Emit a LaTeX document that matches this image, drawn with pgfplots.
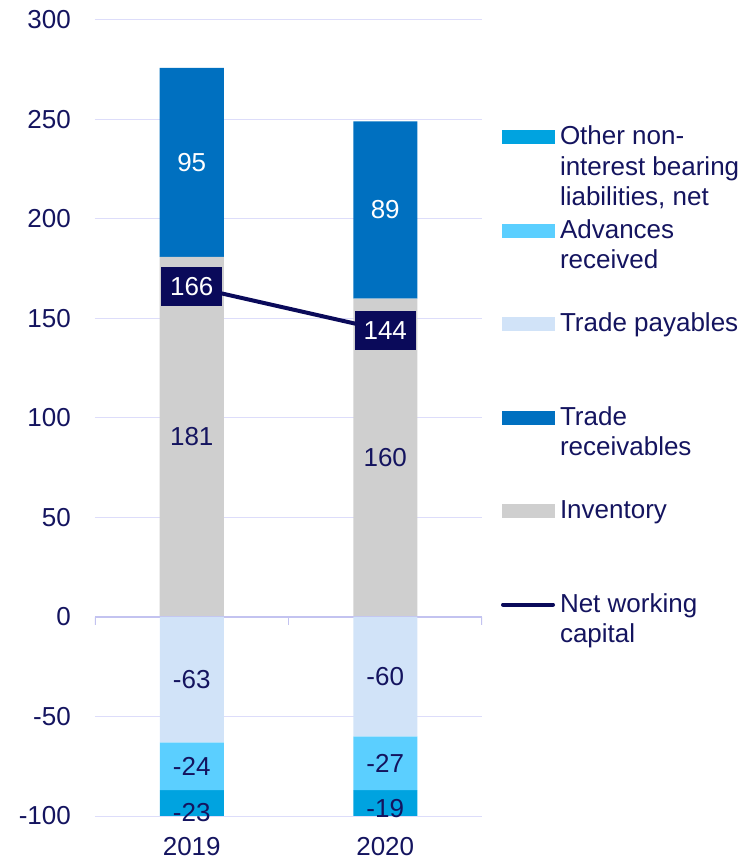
\documentclass[border=0pt]{standalone}
\usepackage{pgfplots}
\pgfplotsset{compat=1.18}
\usepackage{fontspec}
\setmainfont{Liberation Sans}
\definecolor{oth}{RGB}{0,163,224}
\definecolor{adv}{RGB}{91,207,255}
\definecolor{tpay}{RGB}{209,227,248}
\definecolor{trec}{RGB}{0,112,192}
\definecolor{inv}{RGB}{207,207,207}
\definecolor{nwc}{RGB}{10,10,90}
\definecolor{txt}{RGB}{20,20,95}
\definecolor{gridc}{RGB}{221,221,250}
\definecolor{zeroc}{RGB}{195,195,240}
\newcommand\fs{\fontsize{26bp}{30.5bp}\selectfont}
\pgfplotsset{
  base/.style={
    scale only axis, width=387bp, height=796bp, at={(0,0)}, anchor=south west,
    xmin=-0.5, xmax=1.5, ymin=-100, ymax=300, font=\fs,
  },
  lbl/.style={
    forget plot, draw=none, mark=none,
    nodes near coords={\pgfplotspointmeta},
    point meta=explicit symbolic,
    every node near coord/.append style={anchor=center, font=\fs, inner sep=0pt, text=#1},
  },
}
\begin{document}
\begin{tikzpicture}
\path[use as bounding box] (-95bp,-43bp) rectangle (648bp,816bp);
% positive stack with grid and ticks
\begin{axis}[base, ybar stacked, bar width=64bp,
  ytick={-100,-50,...,300}, xtick={0,1}, xticklabels={2019,2020},
  ymajorgrids, grid style={draw=gridc, line width=1bp},
  major tick length=0pt,
  axis line style={draw=none},
  tick label style={text=txt},
  yticklabel style={inner sep=0pt, xshift=-24bp},
  xticklabel style={inner sep=0pt, yshift=-20.7bp},
  /pgf/number format/assume math mode=true,
]
\draw[zeroc, line width=1.5bp] (axis cs:-0.5,0) -- (axis cs:1.5,0);
\draw[zeroc, line width=1.5bp] (axis cs:-0.5,0) -- ([yshift=-8bp]axis cs:-0.5,0);
\draw[zeroc, line width=1.5bp] (axis cs:0.5,0) -- ([yshift=-8bp]axis cs:0.5,0);
\draw[zeroc, line width=1.5bp] (axis cs:1.5,0) -- ([yshift=-8bp]axis cs:1.5,0);
% Inventory
\addplot[fill=inv, draw=none] coordinates {(0,181) (1,160)};
% Trade receivables
\addplot[fill=trec, draw=none] coordinates {(0,95) (1,89)};
\end{axis}
% negative stack
\begin{axis}[base, hide axis, ybar stacked, bar width=64bp]
% Trade payables
\addplot[fill=tpay, draw=none] coordinates {(0,-63) (1,-60)};
% Advances received
\addplot[fill=adv, draw=none] coordinates {(0,-24) (1,-27)};
% Other non-interest bearing liabilities, net
\addplot[fill=oth, draw=none] coordinates {(0,-23) (1,-19)};
\end{axis}
% value labels, net working capital and legend
\begin{axis}[base, hide axis, clip=false,
  legend style={draw=none, fill=none, inner sep=0pt, outer sep=0pt,
    at={(axis description cs:1.0491,0.8685)}, anchor=north west,
    column sep=5bp, row sep=0pt, font=\fs, text=txt,
    cells={anchor=base west},
    nodes={inner sep=0pt, text height=20bp, text depth=73.5bp}},
]
% segment labels at the middle of each segment
\addplot[lbl=txt] coordinates {(0,90.5) [181] (1,80) [160]};
\addplot[lbl=white] coordinates {(0,228.5) [95] (1,204.5) [89]};
\addplot[lbl=txt] coordinates {(0,-31.5) [-63] (1,-30) [-60]};
\addplot[lbl=txt] coordinates {(0,-75) [-24] (1,-73.5) [-27]};
\addplot[lbl=txt] coordinates {(0,-98.5) [-23] (1,-96.5) [-19]};
% Net working capital
\addplot[forget plot, nwc, line width=4bp, mark=none,
  nodes near coords={\pgfplotspointmeta}, point meta=explicit symbolic,
  every node near coord/.append style={fill=nwc, text=white, anchor=center, inner sep=0pt,
    minimum width=61bp, minimum height=38.5bp, font=\fs}]
  coordinates {(0,166) [166] (1,144) [144]};
\addlegendimage{legend image code/.code={\fill[oth] (0bp,1bp) rectangle (52bp,14.4bp);}}
\addlegendentry{\vtop{\hbox{Other non-}\hbox{interest bearing}\hbox{liabilities, net}}}
\addlegendimage{legend image code/.code={\fill[adv] (0bp,1bp) rectangle (52bp,14.4bp);}}
\addlegendentry{\vtop{\hbox{Advances}\hbox{received}}}
\addlegendimage{legend image code/.code={\fill[tpay] (0bp,1bp) rectangle (52bp,14.4bp);}}
\addlegendentry{Trade payables}
\addlegendimage{legend image code/.code={\fill[trec] (0bp,1bp) rectangle (52bp,14.4bp);}}
\addlegendentry{\vtop{\hbox{Trade}\hbox{receivables}}}
\addlegendimage{legend image code/.code={\fill[inv] (0bp,1bp) rectangle (52bp,14.4bp);}}
\addlegendentry{Inventory}
\addlegendimage{legend image code/.code={\draw[nwc, line width=4bp, line cap=round] (1bp,7.5bp) -- (51bp,7.5bp);}}
\addlegendentry{\vtop{\hbox{Net working}\hbox{capital}}}
\end{axis}
\end{tikzpicture}
\end{document}
